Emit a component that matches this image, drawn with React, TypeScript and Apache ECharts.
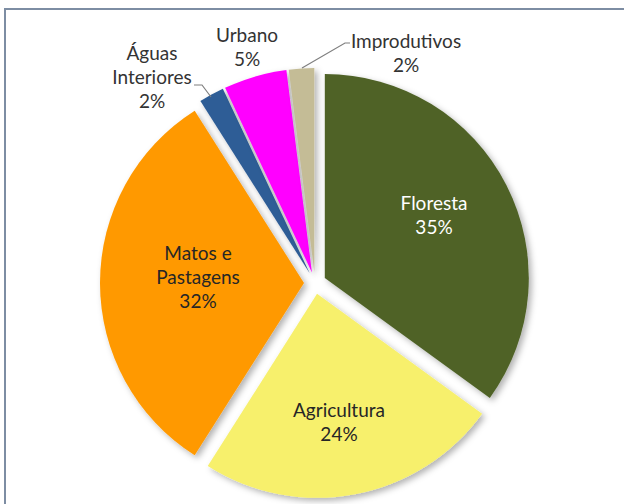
import React, { useEffect, useRef } from "react";
import * as echarts from "echarts";

const categories = ["Floresta", "Agricultura", "Matos e\nPastagens", "Águas\nInteriores", "Urbano", "Improdutivos"];
const values = [35, 24, 32, 2, 5, 2];
const colors = ["#4F6228", "#F7F06C", "#FF9900", "#2E5D96", "#FF00FF", "#C4BC96"];
const labelColors = ["#FFFFFF", "#262626", "#262626", "#333333", "#333333", "#333333"];

// label block centres (layout, not data)
const labelPos: [number, number][] = [
  [434, 214],
  [339, 421],
  [198, 276],
  [152, 76],
  [247, 46],
  [406, 52],
];
const leaderLines: (number[][] | null)[] = [
  null,
  null,
  null,
  [[211, 97], [202, 85], [194, 85]],
  null,
  [[302, 68], [345, 43], [350, 43]],
];

export default function App() {
  const ref = useRef<HTMLDivElement>(null);
  useEffect(() => {
    if (!ref.current) return;
    const chart = echarts.init(ref.current, null, { renderer: "svg" });
    const graphics: any[] = [
      {
        type: "rect",
        shape: { x: 5, y: 9, width: 640, height: 520 },
        style: { fill: "none", stroke: "#7D8DA3", lineWidth: 2 },
        silent: true,
        z: 10,
      },
    ];
    categories.forEach((name, i) => {
      graphics.push({
        type: "text",
        z: 20,
        silent: true,
        style: {
          x: labelPos[i][0],
          y: labelPos[i][1],
          text: `${name}\n${values[i]}%`,
          align: "center",
          verticalAlign: "middle",
          fontFamily: "Lato",
          fontSize: 19,
          lineHeight: 24,
          fill: labelColors[i],
        },
      });
      const ll = leaderLines[i];
      if (ll) {
        graphics.push({
          type: "polyline",
          z: 20,
          silent: true,
          shape: { points: ll },
          style: { stroke: "#7F7F7F", lineWidth: 1.2, fill: "none" },
        });
      }
    });
    chart.setOption({
      animation: false,
      backgroundColor: "#FFFFFF",
      graphic: graphics,
      series: [
        {
          type: "pie",
          center: [315, 283],
          radius: [0, 204],
          startAngle: 90,
          clockwise: true,
          selectedMode: "multiple",
          selectedOffset: 11,
          emphasis: { disabled: true },
          itemStyle: {
            shadowBlur: 6,
            shadowOffsetX: 3,
            shadowOffsetY: 3,
            shadowColor: "rgba(0,0,0,0.3)",
          },
          label: { show: false },
          labelLine: { show: false },
          data: categories.map((name, i) => ({
            name,
            value: values[i],
            selected: true,
            itemStyle: { color: colors[i] },
          })),
        },
      ],
    });
    return () => chart.dispose();
  }, []);
  return (
    <div
      ref={ref}
      style={{ position: "absolute", left: 0, top: 0, width: 624, height: 504 }}
    />
  );
}
